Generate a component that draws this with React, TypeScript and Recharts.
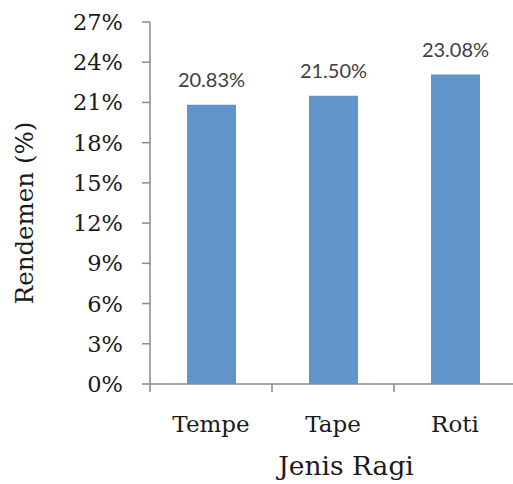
import React from "react";
import { BarChart, Bar, XAxis, YAxis, LabelList } from "recharts";

const categories = ["Tempe", "Tape", "Roti"];
const rendemen = [20.83, 21.5, 23.08];
const yTicks = [0, 3, 6, 9, 12, 15, 18, 21, 24, 27];
const xTitle = "Jenis Ragi";
const yTitle = "Rendemen (%)";

const data = categories.map((name, i) => ({ name, value: rendemen[i] }));

const SERIF = "'DejaVu Serif', serif";
const AXIS_COLOR = "#8a8a8a";

const CategoryTick = (props: any) => {
  const { x, y, payload, index, visibleTicksCount } = props;
  const half = payload && payload.offset ? payload.offset : 0;
  const isLast = index === (visibleTicksCount ?? categories.length) - 1;
  return (
    <g>
      <line x1={x - half} x2={x - half} y1={y} y2={y + 8} stroke={AXIS_COLOR} strokeWidth={1.5} />
      {isLast && (
        <line x1={x + half} x2={x + half} y1={y} y2={y + 8} stroke={AXIS_COLOR} strokeWidth={1.5} />
      )}
      <text x={x} y={y + 48} textAnchor="middle" fontFamily={SERIF} fontSize={23} fill="#1a1a1a">
        {payload.value}
      </text>
    </g>
  );
};

const XTitle = (props: any) => {
  const vb = props.viewBox || {};
  const cx = (vb.x ?? 0) + (vb.width ?? 0) / 2 + 13;
  return (
    <text x={cx} y={475} textAnchor="middle" fontFamily={SERIF} fontSize={26.5} fill="#1a1a1a">
      {xTitle}
    </text>
  );
};

const YTitle = (props: any) => {
  const vb = props.viewBox || {};
  const cy = (vb.y ?? 0) + (vb.height ?? 0) / 2 + 10;
  const x = 33;
  return (
    <text
      x={x}
      y={cy}
      textAnchor="middle"
      transform={`rotate(-90, ${x}, ${cy})`}
      fontFamily={SERIF}
      fontSize={24.5}
      fill="#1a1a1a"
    >
      {yTitle}
    </text>
  );
};

export default function App() {
  return (
    <div
      style={{
        position: "absolute",
        left: 0,
        top: 0,
        width: 513,
        height: 484,
        overflow: "hidden",
        background: "#ffffff",
      }}
    >
      <BarChart
        width={520}
        height={484}
        data={data}
        margin={{ top: 22, right: 4, left: 0, bottom: 0 }}
      >
        <YAxis
          width={150}
          domain={[0, 27]}
          ticks={yTicks}
          interval={0}
          tickFormatter={(v: number) => `${v}%`}
          tickSize={8}
          tickMargin={19}
          stroke={AXIS_COLOR}
          axisLine={{ stroke: AXIS_COLOR, strokeWidth: 1.5 }}
          tickLine={{ stroke: AXIS_COLOR, strokeWidth: 1.5 }}
          tick={{ fontFamily: SERIF, fontSize: 22.5, fill: "#1a1a1a" }}
          label={<YTitle />}
        />
        <XAxis
          dataKey="name"
          height={100}
          tickSize={0}
          tickMargin={0}
          tickLine={false}
          interval={0}
          axisLine={{ stroke: AXIS_COLOR, strokeWidth: 1.5 }}
          tick={<CategoryTick />}
          label={<XTitle />}
        />
        <Bar dataKey="value" fill="#5f95cb" barSize={49} isAnimationActive={false}>
          <LabelList
            dataKey="value"
            position="top"
            offset={18}
            formatter={(v: any) => `${Number(v).toFixed(2)}%`}
            style={{ fontFamily: "Lato, sans-serif", fontSize: 20, fill: "#404040" }}
          />
        </Bar>
      </BarChart>
    </div>
  );
}
